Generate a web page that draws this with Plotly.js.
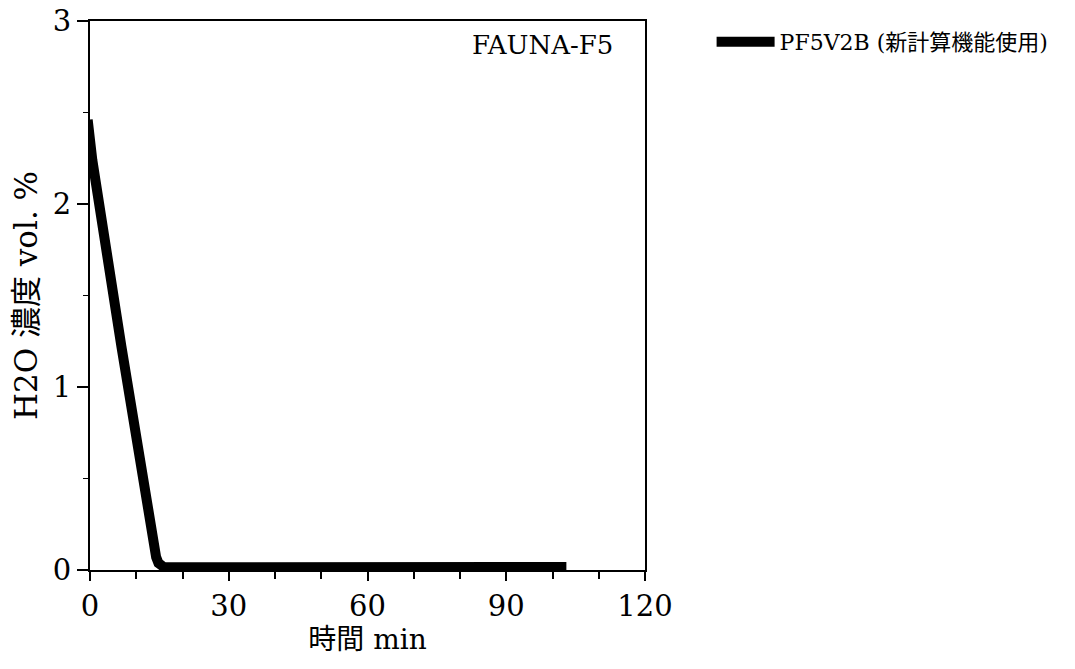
<!DOCTYPE html>
<html>
<head>
<meta charset="utf-8">
<script src="https://cdn.plot.ly/plotly-3.0.1.min.js"></script>
<style>html,body{margin:0;padding:0;background:#fff;}#chart{width:1075px;height:669px;}</style>
</head>
<body>
<div id="chart"></div>
<script>
const timeMin = [-0.5, 0.5, 6.8, 12.3, 13.2, 13.8, 14.3, 14.8, 15.3, 15.9, 17, 25, 40, 60, 80, 95, 103];
const h2oConc = [2.46, 2.24, 1.22, 0.34, 0.205, 0.125, 0.07, 0.038, 0.024, 0.017, 0.015, 0.014, 0.014, 0.015, 0.016, 0.017, 0.017];
const seriesName = 'PF5V2B (新計算機能使用)';
const xTicks = [0, 30, 60, 90, 120];
const yTicks = [0, 1, 2, 3];
const panelLabel = 'FAUNA-F5';

const serif = '"DejaVu Serif", "Noto Sans CJK JP", serif';

const data = [{
  x: timeMin, y: h2oConc, type: 'scatter', mode: 'lines',
  name: seriesName,
  line: {color: '#000', width: 10, shape: 'linear'}
}];

const layout = {
  width: 1075, height: 669,
  margin: {l: 90, r: 430, t: 21, b: 99},
  paper_bgcolor: '#fff', plot_bgcolor: '#fff',
  showlegend: true,
  legend: {x: 1.12, y: 0.962, xanchor: 'left', yanchor: 'middle', itemwidth: 58,
           font: {family: serif, size: 22, color: '#000'}, bgcolor: 'rgba(0,0,0,0)'},
  xaxis: {
    range: [0, 120], tickvals: xTicks, ticktext: xTicks.map(String),
    showline: true, linecolor: '#000', linewidth: 2, mirror: true,
    ticks: 'outside', ticklen: 9, tickwidth: 2, tickcolor: '#000',
    minor: {dtick: 10, tick0: 0, ticks: 'outside', ticklen: 7, tickwidth: 2, tickcolor: '#000'},
    showgrid: false, zeroline: false,
    tickfont: {family: serif, size: 29, color: '#000'},
    title: {text: '時間 min', font: {family: serif, size: 28, color: '#000'}, standoff: 6}
  },
  yaxis: {
    range: [0, 3], tickvals: yTicks, ticktext: yTicks.map(String),
    showline: true, linecolor: '#000', linewidth: 2, mirror: true,
    ticks: 'outside', ticklen: 11, tickwidth: 2, tickcolor: '#000',
    minor: {dtick: 0.5, tick0: 0, ticks: 'outside', ticklen: 5, tickwidth: 1.5, tickcolor: '#000'},
    showgrid: false, zeroline: false,
    tickfont: {family: serif, size: 29, color: '#000'},
    title: {text: 'H2O 濃度 vol. %', font: {family: serif, size: 31, color: '#000'}, standoff: 6}
  },
  annotations: [{
    text: panelLabel, xref: 'paper', yref: 'paper', x: 0.946, y: 0.956,
    xanchor: 'right', yanchor: 'middle', showarrow: false,
    font: {family: serif, size: 26, color: '#000'}
  }]
};

Plotly.newPlot('chart', data, layout, {displayModeBar: false, staticPlot: true});
</script>
</body>
</html>
